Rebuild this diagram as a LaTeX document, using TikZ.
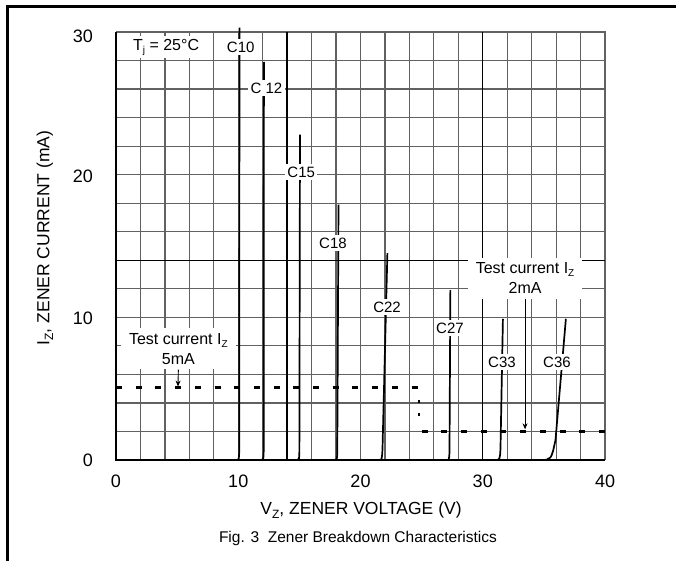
\documentclass[tikz,border=0pt]{standalone}
\usepackage{fontspec}
\setmainfont{Liberation Sans}
\usetikzlibrary{arrows.meta}
\begin{document}
\begin{tikzpicture}[x=1pt,y=-1pt,
  gridline/.style={draw=black!62, line width=1.2pt},
  darkgrid/.style={draw=black, line width=1.4pt},
  curve/.style={draw=black, line width=1.7pt, line join=round},
  lbl/.style={fill=white, inner sep=2.5pt, font=\fontsize{15}{17}\selectfont},
  testlbl/.style={fill=white, inner xsep=8pt, inner ysep=5pt, align=center, font=\fontsize{16}{20}\selectfont},
  ticklbl/.style={font=\fontsize{18}{20}\selectfont},
  axtitle/.style={font=\fontsize{17.5}{20}\selectfont},
  captxt/.style={font=\fontsize{15.5}{18}\selectfont},
  testdash/.style={draw=black, line width=3pt, dash pattern=on 6pt off 13.7pt},
  testdot/.style={draw=black, line width=2.5pt, dash pattern=on 3pt off 10pt},
  testarrow/.style={draw=black, line width=0.9pt, -{Stealth[length=6pt,width=5pt]}},
  frameline/.style={draw=black, line width=3pt}
]
\useasboundingbox (0,0) rectangle (676,560);
\fill[white] (0,0) rectangle (676,560);
\draw[frameline] (7,562) -- (7,6) -- (678,6);

\begin{scope}[shift={(116,460)}, x=12.225pt, y=14.267pt]
  % grid
  \foreach \v in {2,4,...,38} \draw[gridline] (\v,0) -- (\v,30);
  \foreach \i in {2,4,...,28} \draw[gridline] (0,\i) -- (40,\i);
  \draw[gridline] (0,30) -- (40,30) -- (40,0);
  \draw[darkgrid] (14,0) -- (14,30);
  \draw[darkgrid] (30,0) -- (30,30);
  \draw[darkgrid] (0,14) -- (40,14);
  \draw[draw=black, line width=2pt] (0,30) -- (0,0) -- (40,0);

  % test current dashed line
  \coordinate (d5a) at (0,5.05);
  \coordinate (d5b) at (24.7,5.05);
  \coordinate (dva) at (24.79,4.2);
  \coordinate (dvb) at (24.79,2.4);
  \coordinate (d2a) at (25.0,2.0);
  \coordinate (d2b) at (40,2.0);
  \draw[testdash] (d5a) -- (d5b);
  \draw[testdot] (dva) -- (dvb);
  \draw[testdash] (d2a) -- (d2b);

  % zener curves
  \draw[curve] (0,0) -- (9.9,0) .. controls (10.05,0) .. (10.08,0.6) -- (10.1,30.3);
  \draw[curve] (9.9,0) -- (11.9,0) .. controls (12.05,0) .. (12.08,0.6) -- (12.1,27.9);
  \draw[curve] (11.9,0) -- (14.8,0) .. controls (14.98,0) .. (15.0,0.6) -- (15.05,22.8);
  \draw[curve] (14.8,0) -- (17.9,0) .. controls (18.08,0) .. (18.1,0.6) -- (18.2,17.9);
  \draw[curve] (17.9,0) -- (21.5,0) .. controls (21.75,0) .. (21.8,0.8) -- (22.2,14.5);
  \draw[curve] (21.5,0) -- (27.0,0) .. controls (27.25,0) .. (27.28,0.6) -- (27.35,11.9);
  \draw[curve] (27.0,0) -- (31.0,0) .. controls (31.4,0) .. (31.45,0.8) -- (31.65,9.9);
  \draw[curve] (31.0,0) -- (34.7,0) .. controls (35.6,0) .. (35.95,1.4) -- (36.8,9.9);

  % curve labels
  \node[lbl] (c10) at (10.2,28.95) {C10};
  \node[lbl] (c12) at (12.3,26.07) {C 12};
  \node[lbl] (c15) at (15.15,20.19) {C15};
  \node[lbl] (c18) at (17.75,15.21) {C18};
  \node[lbl] (c22) at (22.17,10.72) {C22};
  \node[lbl] (c27) at (27.32,9.25) {C27};
  \node[lbl] (c33) at (31.57,6.87) {C33};
  \node[lbl] (c36) at (36.07,6.87) {C36};
  \node[lbl, font=\fontsize{16}{18}\selectfont] (tj) at (4.1,28.95) {T\raisebox{-0.35ex}{\fontsize{10}{10}\selectfont j} = 25°C};

  % test current labels and arrows
  \node[testlbl] (t5) at (5.1,7.8) {Test current I\raisebox{-0.35ex}{\fontsize{10}{10}\selectfont Z}\\5mA};
  \node[testlbl] (t2) at (33.46,12.75) {Test current I\raisebox{-0.35ex}{\fontsize{10}{10}\selectfont Z}\\2mA};
  \coordinate (a5) at (5.07,5.15);
  \coordinate (a2) at (33.46,2.15);
  \draw[testarrow] (t5.south) -- (a5);
  \draw[testarrow] (t2.south) -- (a2);

  % tick labels
  \node[ticklbl, anchor=east] (y30) at (-1.6,29.72) {30};
  \node[ticklbl, anchor=east] (y20) at (-1.6,19.9) {20};
  \node[ticklbl, anchor=east] (y10) at (-1.6,9.95) {10};
  \node[ticklbl, anchor=east] (y0) at (-1.6,0) {0};
  \node[ticklbl] (x0) at (0,-1.5) {0};
  \node[ticklbl] (x10) at (10,-1.5) {10};
  \node[ticklbl] (x20) at (20,-1.5) {20};
  \node[ticklbl] (x30) at (30,-1.5) {30};
  \node[ticklbl] (x40) at (40,-1.5) {40};
\end{scope}

\node[axtitle] (xtitle) at (361,510) {V\raisebox{-0.4ex}{\fontsize{12}{12}\selectfont Z}, ZENER VOLTAGE (V)};
\node[axtitle, rotate=90] (ytitle) at (45,238) {I\raisebox{-0.4ex}{\fontsize{12}{12}\selectfont Z}, ZENER CURRENT (mA)};
\node[captxt] (caption) at (358,538) {Fig. 3\ \ Zener Breakdown Characteristics};
\end{tikzpicture}
\end{document}
